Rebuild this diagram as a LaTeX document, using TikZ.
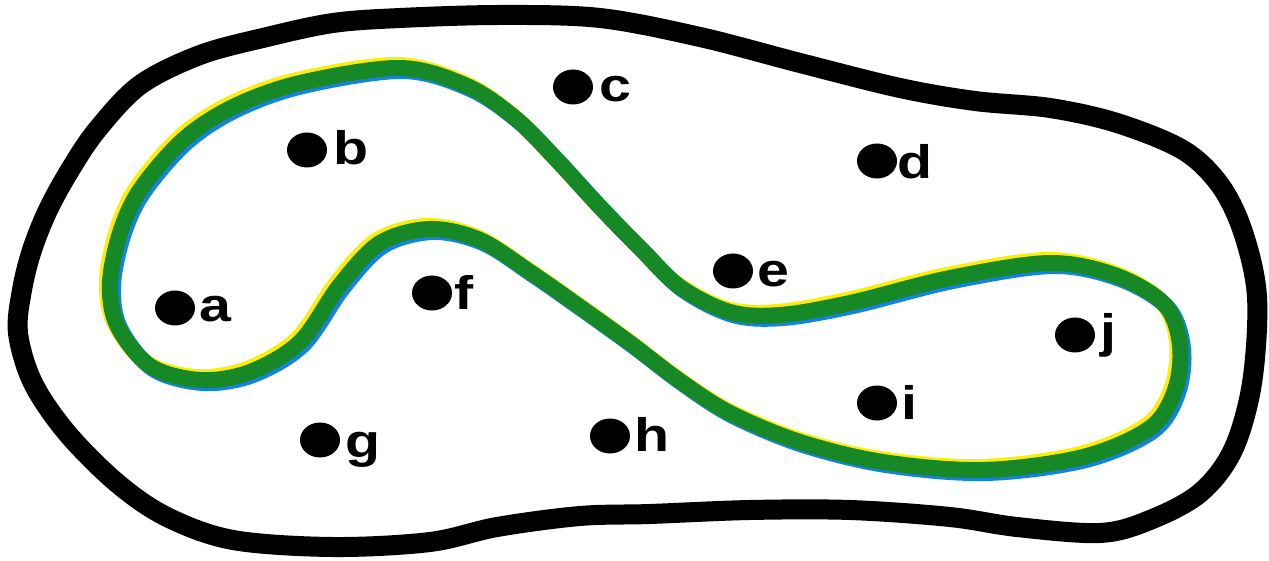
\documentclass[tikz,border=0pt]{standalone}
\usepackage{fontspec}
\setmainfont{Liberation Sans}
\newfontfamily\lblfont[FakeStretch=1.22]{Liberation Sans}
\usetikzlibrary{shapes.geometric}
\begin{document}
\begin{tikzpicture}[x=1pt,y=-1pt,
  outline/.style={line width=20pt,black,line join=round},
  loopline/.style={line width=16pt,line join=round},
  dotshape/.style={ellipse,fill=black,inner sep=0pt,minimum width=40pt,minimum height=35pt},
  lbl/.style={anchor=base west,inner sep=0pt,font=\lblfont\fontsize{47}{47}\selectfont\bfseries}]
\useasboundingbox (0,0) rectangle (1269,561);
\definecolor{lgreen}{RGB}{22,136,38}
\definecolor{lyellow}{RGB}{250,238,10}
\definecolor{lblue}{RGB}{20,130,225}
% outer boundary
\draw[outline] plot[smooth cycle,tension=0.55] coordinates {
 (400,18) (500,15) (600,18) (700,37) (800,63) (900,88) (975,101) (1050,108)
 (1117,123) (1183,150) (1220,185) (1243,232) (1257,297) (1252,383) (1233,450)
 (1200,493) (1150,520) (1100,533) (1017,527) (950,517) (850,510) (750,510)
 (650,514) (580,516) (497,527) (430,542) (333,547) (233,540) (167,517)
 (117,483) (67,433) (33,383) (18,333) (22,290) (32,250) (48,210) (70,170)
 (97,130) (140,85) (200,55) (267,37) (333,23)};
% loop with misregistered fringes
\def\looppath{plot[smooth cycle,tension=0.55] coordinates {
 (400,68) (467,86) (515,118) (555,158) (600,207) (640,248) (680,287) (730,312)
 (780,315) (850,303) (950,278) (1050,263) (1117,276) (1165,305) (1180,345)
 (1175,390) (1150,428) (1083,457) (983,470) (883,462) (800,442) (730,413)
 (680,381) (630,343) (580,307) (530,272) (480,240) (430,229) (380,243)
 (340,285) (300,342) (250,372) (200,380) (150,366) (117,325) (110,283)
 (120,233) (140,190) (183,140) (233,107) (300,83)}}
\draw[loopline,lyellow,xshift=-3pt,yshift=3pt] \looppath;
\draw[loopline,lblue,xshift=3pt,yshift=-3pt] \looppath;
\draw[loopline,lgreen] \looppath;
% points
\node[dotshape] (a) at (175,308) {};
\node[dotshape] (b) at (307,150) {};
\node[dotshape] (c) at (573,87) {};
\node[dotshape] (d) at (877,161) {};
\node[dotshape] (e) at (733,271) {};
\node[dotshape] (f) at (432,293) {};
\node[dotshape] (g) at (320,440) {};
\node[dotshape] (h) at (610,436) {};
\node[dotshape] (i) at (877,403) {};
\node[dotshape] (j) at (1075,335) {};
\node[lbl] (la) at (199,322) {a};
\node[lbl] (lb) at (333,165) {b};
\node[lbl] (lc) at (599,102) {c};
\node[lbl] (ld) at (897,179) {d};
\node[lbl] (le) at (757,287) {e};
\node[lbl] (lf) at (454,309) {f};
\node[lbl] (lg) at (345,457) {g};
\node[lbl] (lh) at (634,451) {h};
\node[lbl] (li) at (901,419) {i};
\node[lbl] (lj) at (1100,348) {j};
\end{tikzpicture}
\end{document}
